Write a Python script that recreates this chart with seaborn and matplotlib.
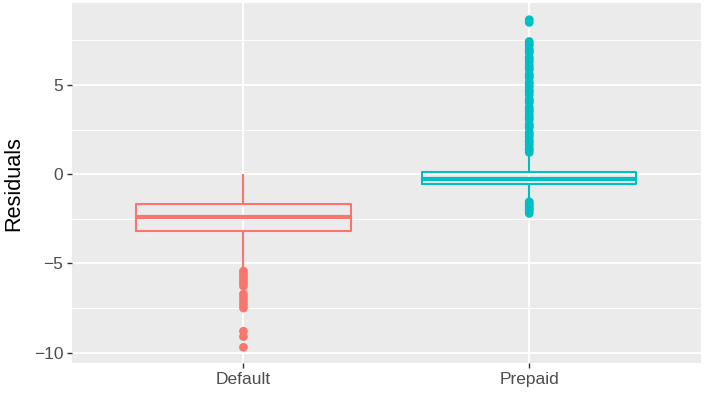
import numpy as np
import pandas as pd
import matplotlib
matplotlib.use("Agg")
import matplotlib.pyplot as plt
import seaborn as sns
from matplotlib.ticker import MultipleLocator, FixedLocator

# ---- data ----
categories = ["Default", "Prepaid"]
colors = ["#F8766D", "#00BFC4"]
# five-number summaries: lower whisker, Q1, median, Q3, upper whisker
default_summary = [-5.35, -3.19, -2.39, -1.70, 0.0]
prepaid_summary = [-1.45, -0.58, -0.26, 0.14, 1.10]
# outlying residuals
default_outliers = [-5.43, -5.6, -5.76, -5.93, -6.1, -6.27, -6.72, -6.9, -7.1,
                    -7.3, -7.5, -8.8, -9.1, -9.7]
prepaid_outliers = [8.65, 8.5, 7.43, 7.3, 7.2, 7.0, 6.9, 6.8, 6.55, 6.45, 6.3,
                    6.1, 5.95, 5.85, 5.6, 5.5, 5.4, 5.15, 5.05, 4.9, 4.7, 4.6,
                    4.45, 4.2, 4.1, 4.0, 3.75, 3.6, 3.5, 3.3, 3.15, 3.05, 2.8,
                    2.7, 2.6, 2.35, 2.25, 2.1, 1.9, 1.8, 1.65, 1.45, 1.35, 1.22,
                    -1.55, -1.65, -1.75, -1.85, -1.95, -2.05, -2.2]
yticks = [-10, -5, 0, 5]
y_label = "Residuals"

# ---- build tables ----
box_df = pd.DataFrame({
    "group": [categories[0]] * len(default_summary) + [categories[1]] * len(prepaid_summary),
    "value": default_summary + prepaid_summary,
})
out_df = pd.DataFrame({
    "group": [categories[0]] * len(default_outliers) + [categories[1]] * len(prepaid_outliers),
    "value": default_outliers + prepaid_outliers,
})

sns.set_theme(style="darkgrid")
plt.rcParams["font.family"] = ["Liberation Sans", "DejaVu Sans"]

fig = plt.figure(figsize=(7.11, 3.98), dpi=100)
W, H = 711, 398
left, right, top, bottom = 72, 700.7, 3.3, 363
ax = fig.add_axes([left / W, 1 - bottom / H, (right - left) / W, (bottom - top) / H])
ax.set_facecolor("#EBEBEB")

palette = dict(zip(categories, colors))
sns.boxplot(data=box_df, x="group", y="value", hue="group", order=categories,
            hue_order=categories, palette=palette, fill=False, width=0.75,
            whis=np.inf, showfliers=False, showcaps=False, linewidth=1.5,
            medianprops={"linewidth": 3.0}, legend=False, ax=ax, zorder=3)
for p in ax.patches:
    p.set_facecolor("white")

sns.stripplot(data=out_df, x="group", y="value", hue="group", order=categories,
              hue_order=categories, palette=palette, jitter=False, size=6.3,
              linewidth=0, legend=False, ax=ax, zorder=4)

ax.set_xlim(-0.6, 1.6)
ax.set_ylim(-10.58, 9.57)
ax.yaxis.set_major_locator(FixedLocator(yticks))
ax.yaxis.set_minor_locator(MultipleLocator(2.5))
ax.set_yticklabels(["\u221210", "\u22125", "0", "5"])

ax.set_axisbelow(True)
ax.grid(False)
ax.grid(True, which="major", axis="both", color="white", linewidth=1.3)
ax.grid(True, which="minor", axis="y", color="white", linewidth=0.7)
for s in ax.spines.values():
    s.set_visible(False)

ax.tick_params(axis="both", which="major", length=3.8, width=1.0, color="#333333",
               labelsize=12.5, labelcolor="#4D4D4D", pad=2.5)
ax.tick_params(axis="both", which="minor", length=0)
ax.tick_params(axis="x", bottom=True)
ax.tick_params(axis="y", left=True)

ax.set_xlabel("")
ax.set_ylabel(y_label, fontsize=15.6, color="black", va="center")
ax.yaxis.set_label_coords((13.3 - left) / (right - left), 0.5)

fig.savefig("out.png", dpi=100, facecolor="white")
